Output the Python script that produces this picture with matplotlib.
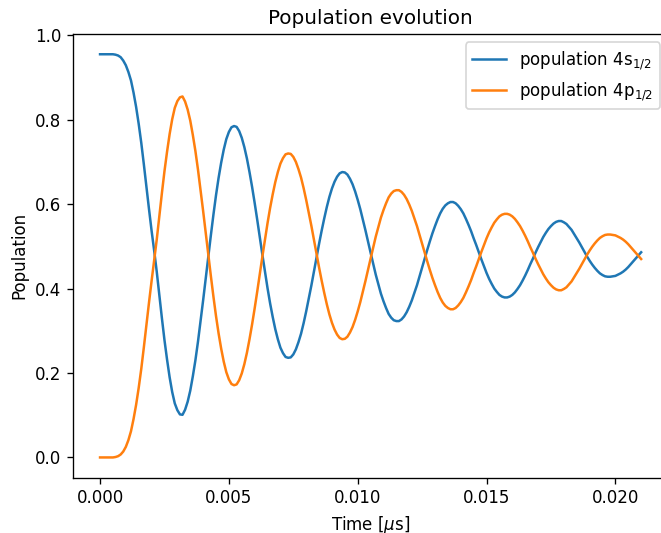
import matplotlib
matplotlib.use("Agg")
import matplotlib.pyplot as plt

# sample times (in microseconds)
time = [
    0.0000, 0.0001, 0.0002, 0.0003, 0.0004, 0.0005, 0.0006, 0.0007, 0.0008, 0.0009,
    0.0010, 0.0011, 0.0012, 0.0013, 0.0014, 0.0015, 0.0016, 0.0017, 0.0018, 0.0019,
    0.0020, 0.0021, 0.0022, 0.0023, 0.0024, 0.0025, 0.0026, 0.0027, 0.0028, 0.0029,
    0.0030, 0.0031, 0.0032, 0.0033, 0.0034, 0.0035, 0.0036, 0.0037, 0.0038, 0.0039,
    0.0040, 0.0041, 0.0042, 0.0043, 0.0044, 0.0045, 0.0046, 0.0047, 0.0048, 0.0049,
    0.0050, 0.0051, 0.0052, 0.0053, 0.0054, 0.0055, 0.0056, 0.0057, 0.0058, 0.0059,
    0.0060, 0.0061, 0.0062, 0.0063, 0.0064, 0.0065, 0.0066, 0.0067, 0.0068, 0.0069,
    0.0070, 0.0071, 0.0072, 0.0073, 0.0074, 0.0075, 0.0076, 0.0077, 0.0078, 0.0079,
    0.0080, 0.0081, 0.0082, 0.0083, 0.0084, 0.0085, 0.0086, 0.0087, 0.0088, 0.0089,
    0.0090, 0.0091, 0.0092, 0.0093, 0.0094, 0.0095, 0.0096, 0.0097, 0.0098, 0.0099,
    0.0100, 0.0101, 0.0102, 0.0103, 0.0104, 0.0105, 0.0106, 0.0107, 0.0108, 0.0109,
    0.0110, 0.0111, 0.0112, 0.0113, 0.0114, 0.0115, 0.0116, 0.0117, 0.0118, 0.0119,
    0.0120, 0.0121, 0.0122, 0.0123, 0.0124, 0.0125, 0.0126, 0.0127, 0.0128, 0.0129,
    0.0130, 0.0131, 0.0132, 0.0133, 0.0134, 0.0135, 0.0136, 0.0137, 0.0138, 0.0139,
    0.0140, 0.0141, 0.0142, 0.0143, 0.0144, 0.0145, 0.0146, 0.0147, 0.0148, 0.0149,
    0.0150, 0.0151, 0.0152, 0.0153, 0.0154, 0.0155, 0.0156, 0.0157, 0.0158, 0.0159,
    0.0160, 0.0161, 0.0162, 0.0163, 0.0164, 0.0165, 0.0166, 0.0167, 0.0168, 0.0169,
    0.0170, 0.0171, 0.0172, 0.0173, 0.0174, 0.0175, 0.0176, 0.0177, 0.0178, 0.0179,
    0.0180, 0.0181, 0.0182, 0.0183, 0.0184, 0.0185, 0.0186, 0.0187, 0.0188, 0.0189,
    0.0190, 0.0191, 0.0192, 0.0193, 0.0194, 0.0195, 0.0196, 0.0197, 0.0198, 0.0199,
    0.0200, 0.0201, 0.0202, 0.0203, 0.0204, 0.0205, 0.0206, 0.0207, 0.0208, 0.0209,
    0.0210,
]

pop_4s = [
    0.955, 0.955, 0.955, 0.955, 0.955, 0.955, 0.954, 0.952, 0.948, 0.940,
    0.929, 0.913, 0.893, 0.864, 0.830, 0.790, 0.745, 0.694, 0.640, 0.588,
    0.537, 0.490, 0.440, 0.384, 0.330, 0.278, 0.232, 0.190, 0.155, 0.128,
    0.112, 0.102, 0.101, 0.113, 0.132, 0.158, 0.192, 0.230, 0.274, 0.322,
    0.372, 0.424, 0.475, 0.526, 0.575, 0.621, 0.662, 0.698, 0.729, 0.754,
    0.771, 0.782, 0.785, 0.783, 0.773, 0.757, 0.735, 0.708, 0.676, 0.641,
    0.603, 0.563, 0.521, 0.480, 0.440, 0.401, 0.365, 0.333, 0.304, 0.280,
    0.260, 0.247, 0.238, 0.236, 0.237, 0.244, 0.256, 0.273, 0.293, 0.318,
    0.346, 0.376, 0.407, 0.440, 0.473, 0.506, 0.537, 0.566, 0.593, 0.617,
    0.637, 0.653, 0.665, 0.673, 0.676, 0.675, 0.670, 0.660, 0.647, 0.630,
    0.610, 0.588, 0.563, 0.538, 0.511, 0.485, 0.459, 0.433, 0.410, 0.388,
    0.370, 0.354, 0.340, 0.331, 0.325, 0.323, 0.323, 0.327, 0.334, 0.344,
    0.357, 0.372, 0.390, 0.408, 0.429, 0.450, 0.471, 0.492, 0.512, 0.531,
    0.548, 0.564, 0.578, 0.589, 0.597, 0.602, 0.605, 0.605, 0.602, 0.596,
    0.588, 0.578, 0.565, 0.551, 0.536, 0.519, 0.503, 0.486, 0.469, 0.453,
    0.437, 0.423, 0.411, 0.400, 0.392, 0.385, 0.381, 0.379, 0.379, 0.381,
    0.385, 0.391, 0.399, 0.408, 0.419, 0.431, 0.444, 0.458, 0.471, 0.485,
    0.498, 0.510, 0.522, 0.532, 0.541, 0.548, 0.554, 0.558, 0.560, 0.560,
    0.557, 0.553, 0.546, 0.539, 0.529, 0.519, 0.509, 0.498, 0.487, 0.476,
    0.466, 0.457, 0.449, 0.442, 0.436, 0.432, 0.429, 0.428, 0.428, 0.429,
    0.430, 0.433, 0.436, 0.440, 0.445, 0.451, 0.458, 0.465, 0.472, 0.479,
    0.486,
]

pop_4p = [
    0.000, 0.000, 0.000, 0.000, 0.000, 0.000, 0.001, 0.003, 0.007, 0.014,
    0.025, 0.041, 0.062, 0.091, 0.125, 0.165, 0.210, 0.261, 0.315, 0.367,
    0.418, 0.466, 0.516, 0.572, 0.626, 0.678, 0.724, 0.766, 0.801, 0.828,
    0.844, 0.853, 0.855, 0.843, 0.824, 0.798, 0.764, 0.726, 0.682, 0.634,
    0.584, 0.532, 0.481, 0.430, 0.381, 0.335, 0.294, 0.258, 0.227, 0.202,
    0.185, 0.174, 0.171, 0.173, 0.183, 0.199, 0.221, 0.248, 0.280, 0.315,
    0.353, 0.393, 0.435, 0.476, 0.516, 0.555, 0.591, 0.623, 0.652, 0.676,
    0.696, 0.709, 0.718, 0.720, 0.719, 0.712, 0.700, 0.683, 0.663, 0.638,
    0.610, 0.580, 0.549, 0.516, 0.483, 0.450, 0.419, 0.390, 0.363, 0.339,
    0.319, 0.303, 0.291, 0.283, 0.280, 0.281, 0.286, 0.296, 0.309, 0.326,
    0.346, 0.368, 0.393, 0.418, 0.445, 0.471, 0.497, 0.523, 0.546, 0.568,
    0.586, 0.602, 0.616, 0.625, 0.631, 0.633, 0.633, 0.629, 0.622, 0.612,
    0.599, 0.584, 0.566, 0.548, 0.527, 0.506, 0.485, 0.464, 0.444, 0.425,
    0.408, 0.392, 0.378, 0.367, 0.359, 0.354, 0.351, 0.351, 0.354, 0.360,
    0.368, 0.378, 0.391, 0.405, 0.420, 0.437, 0.453, 0.470, 0.487, 0.503,
    0.519, 0.533, 0.545, 0.556, 0.564, 0.571, 0.575, 0.577, 0.577, 0.575,
    0.571, 0.565, 0.557, 0.548, 0.537, 0.525, 0.512, 0.498, 0.485, 0.471,
    0.458, 0.446, 0.434, 0.424, 0.415, 0.408, 0.402, 0.398, 0.396, 0.396,
    0.399, 0.403, 0.410, 0.417, 0.427, 0.437, 0.447, 0.458, 0.469, 0.480,
    0.490, 0.499, 0.507, 0.514, 0.520, 0.524, 0.527, 0.528, 0.528, 0.527,
    0.526, 0.523, 0.520, 0.516, 0.511, 0.505, 0.498, 0.491, 0.484, 0.477,
    0.470,
]

labels = [r"population 4s$_{1/2}$", r"population 4p$_{1/2}$"]

W, H, DPI = 661, 533, 120
fig = plt.figure(figsize=(W / DPI, H / DPI), dpi=DPI)
# the reference is a crop of a larger figure, so the axes runs past the right edge
ax = fig.add_axes([73 / W, 55.4 / H, 595.2 / W, 443.5 / H])

ax.plot(time, pop_4s, label=labels[0])
ax.plot(time, pop_4p, label=labels[1])

ax.set_title("Population evolution")
ax.set_xlabel(r"Time [$\mu$s]")
ax.set_ylabel("Population")
ax.set_xticks([0.000, 0.005, 0.010, 0.015, 0.020])
ax.spines["right"].set_visible(False)
ax.legend(loc="upper right")

fig.savefig("out.png", dpi=DPI)
